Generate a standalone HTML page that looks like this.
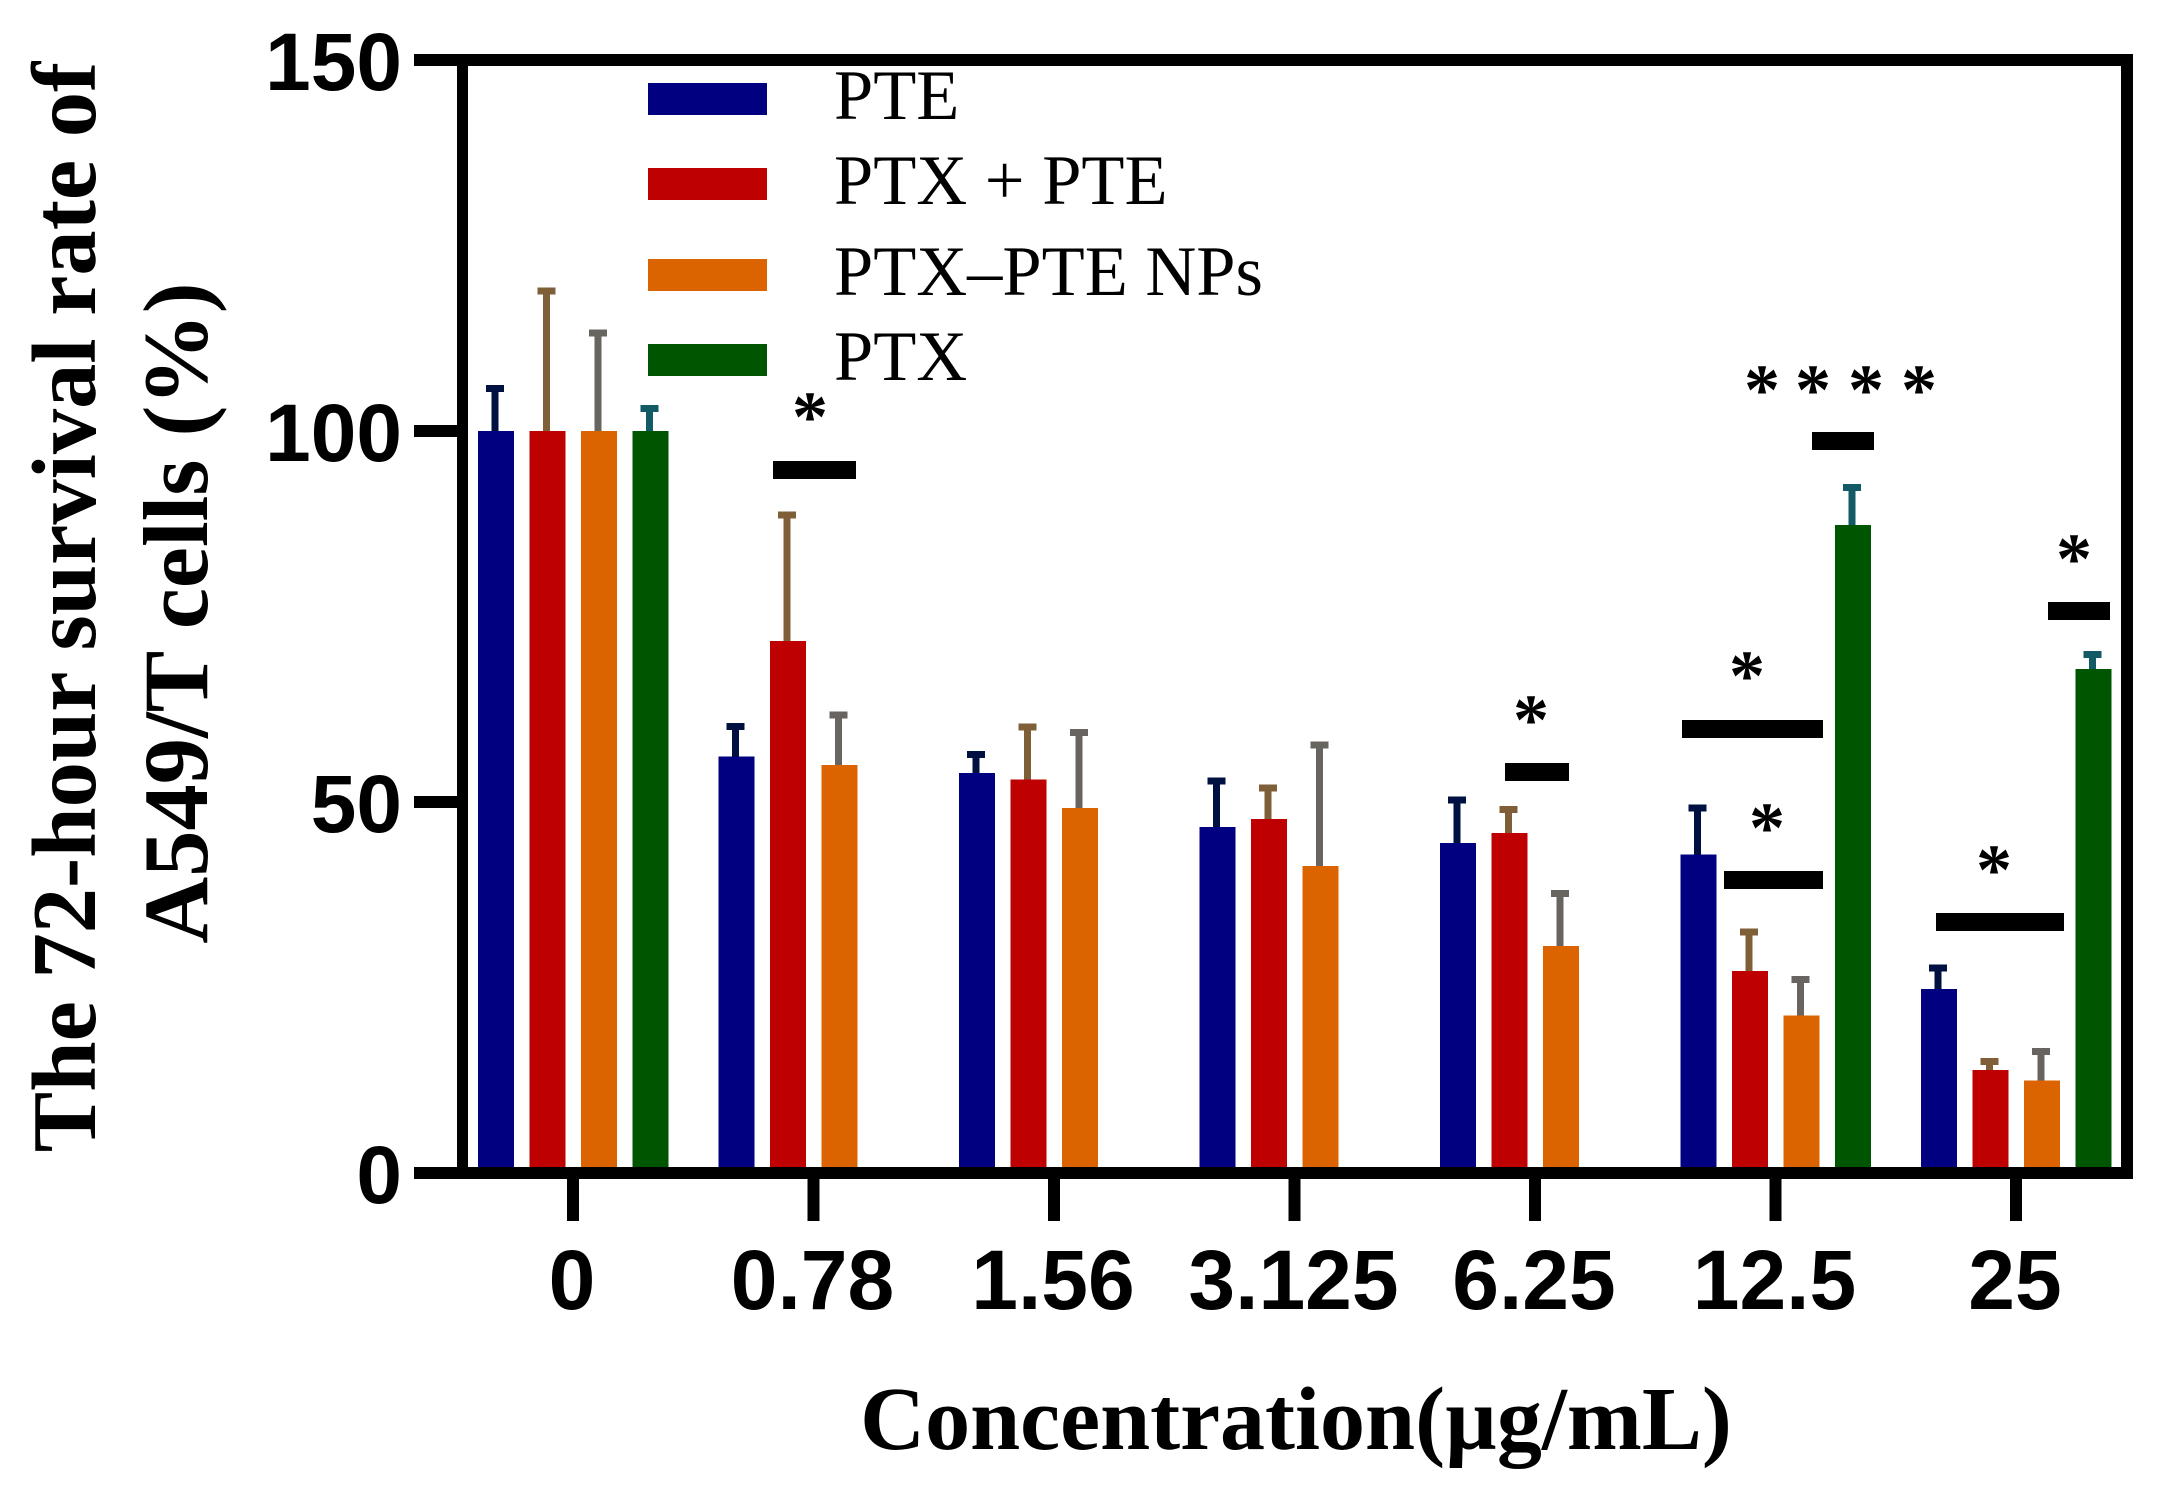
<!DOCTYPE html>
<html lang="en">
<head>
<meta charset="utf-8">
<title>72-hour survival rate of A549/T cells</title>
<style>
  html, body { margin: 0; padding: 0; background: #fff; }
  svg { display: block; }
  .tick { font-family: "Liberation Sans", sans-serif; font-weight: bold; font-size: 84px; fill: #000; }
  .ytick { font-size: 82px; }
  .title { font-family: "Liberation Serif", serif; font-weight: bold; font-size: 90px; fill: #000; }
  .legend { font-family: "Liberation Serif", serif; font-size: 70.5px; fill: #000; }
  .star { font-family: "Liberation Serif", serif; font-weight: bold; font-size: 72px; fill: #000; text-anchor: middle; }
</style>
</head>
<body>
<svg id="chart" xmlns="http://www.w3.org/2000/svg" width="2163" height="1496" viewBox="0 0 2163 1496" shape-rendering="crispEdges">
  <rect x="0" y="0" width="2163" height="1496" fill="#fff"/>
  <g id="bars"></g>
  <g id="axes"></g>
  <g id="legend"></g>

  <g>
    <rect x="773" y="461" width="83" height="18" fill="#000"/>
    <rect x="1505" y="763" width="64" height="18" fill="#000"/>
    <rect x="1682" y="720" width="141" height="18" fill="#000"/>
    <rect x="1724" y="871" width="99" height="18" fill="#000"/>
    <rect x="1812" y="432" width="62" height="18" fill="#000"/>
    <rect x="1936" y="913" width="128" height="18" fill="#000"/>
    <rect x="2048" y="602" width="62" height="18" fill="#000"/>
    <text class="star" x="810" y="441">*</text>
    <text class="star" x="1531" y="744">*</text>
    <text class="star" x="1747" y="700">*</text>
    <text class="star" x="1767" y="852">*</text>
    <text class="star" x="1994" y="894">*</text>
    <text class="star" x="2074" y="583">*</text>
    <text class="star" x="1762" y="414">*</text>
    <text class="star" x="1813" y="414">*</text>
    <text class="star" x="1866" y="414">*</text>
    <text class="star" x="1919" y="414">*</text>
  </g>

  <text class="title" x="1296" y="1449" text-anchor="middle">Concentration(µg/mL)</text>
  <text class="title" style="font-size:90.6px" transform="translate(95,607) rotate(-90)" text-anchor="middle">The 72-hour survival rate of</text>
  <text class="title" style="font-size:92.5px" transform="translate(207,613) rotate(-90)" text-anchor="middle">A549/T cells (%)</text>
</svg>

<script>
const categories = ["0", "0.78", "1.56", "3.125", "6.25", "12.5", "25"];
const yTicks = [0, 50, 100, 150];
const seriesNames = ["PTE", "PTX + PTE", "PTX–PTE NPs", "PTX"];
const valuesPTE = [100, 56.1, 53.9, 46.6, 44.5, 42.9, 24.8];
const valuesCombo = [100, 71.7, 53.0, 47.7, 45.8, 27.2, 13.9];
const valuesNPs = [100, 55.0, 49.2, 41.4, 30.6, 21.2, 12.5];
const valuesPTX = [100, null, null, null, null, 87.3, 67.9];
const errorsPTE = [5.7, 4.1, 2.5, 6.2, 5.8, 6.3, 2.8];
const errorsCombo = [18.9, 17.0, 7.1, 4.2, 3.2, 5.3, 1.1];
const errorsNPs = [13.2, 6.7, 10.2, 16.3, 7.1, 4.9, 3.9];
const errorsPTX = [3.0, null, null, null, null, 5.1, 2.0];

const SVG_NS = "http://www.w3.org/2000/svg";
const barColors = ["#000080", "#be0000", "#dc6400", "#005500"];
const errColors = ["#001040", "#7f5f38", "#686560", "#115a66"];
const allValues = [valuesPTE, valuesCombo, valuesNPs, valuesPTX];
const allErrors = [errorsPTE, errorsCombo, errorsNPs, errorsPTX];
const slugs = ["pte", "ptx-pte", "ptx-pte-nps", "ptx"];

function yScale(v) { return 1173 - v * (1113 / 150); }
function xCenter(i) { return 573 + i * 240.5; }
function barX(i, s) { return xCenter(i) - 95 + s * 51.5; }

function make(tag, attrs, parent) {
  const el = document.createElementNS(SVG_NS, tag);
  for (const k in attrs) el.setAttribute(k, attrs[k]);
  parent.appendChild(el);
  return el;
}

const barsG = document.getElementById("bars");
const axesG = document.getElementById("axes");
const legendG = document.getElementById("legend");

allValues.forEach(function (vals, s) {
  vals.forEach(function (v, i) {
    if (v === null) return;
    const x = barX(i, s);
    const top = yScale(v);
    const errTop = yScale(v + allErrors[s][i]);

    const whisker = make("rect", { x: x + 18 - 4.5, y: errTop, width: 7, height: top - errTop + 1, fill: errColors[s] }, barsG);
    
    

    const cap = make("rect", { x: x + 18 - 10, y: errTop - 3.5, width: 18, height: 7, fill: errColors[s] }, barsG);
    
    

    const bar = make("rect", { x: x, y: top, width: 36, height: yScale(0) - top, fill: barColors[s] }, barsG);
    
    
  });
});

const frameTop = make("rect", { x: 414, y: yScale(150) - 6, width: 1719, height: 12, fill: "#000" }, axesG);



const frameBottom = make("rect", { x: 414, y: yScale(0) - 6, width: 1719, height: 12, fill: "#000" }, axesG);



const frameLeft = make("rect", { x: 457, y: yScale(150) - 6, width: 11, height: yScale(0) - yScale(150) + 12, fill: "#000" }, axesG);



const frameRight = make("rect", { x: 2121, y: yScale(150) - 6, width: 12, height: yScale(0) - yScale(150) + 12, fill: "#000" }, axesG);



yTicks.forEach(function (t) {
  const mark = make("rect", { x: 414, y: yScale(t) - 6, width: 44, height: 12, fill: "#000" }, axesG);
  
  

  const label = make("text", { class: "tick ytick", x: 402, y: yScale(t) + 30, "text-anchor": "end" }, axesG);
  
  
  label.textContent = String(t);
});

categories.forEach(function (c, i) {
  const mark = make("rect", { x: xCenter(i) - 6, y: yScale(0), width: 12, height: 48, fill: "#000" }, axesG);
  
  

  const label = make("text", { class: "tick", x: xCenter(i) - 1, y: 1309, "text-anchor": "middle" }, axesG);
  
  
  label.textContent = c;
});

const legendSwatchTops = [83, 168, 259, 344];
seriesNames.forEach(function (name, s) {
  const top = legendSwatchTops[s];

  const swatch = make("rect", { x: 648, y: top, width: 119, height: 32, fill: barColors[s] }, legendG);
  
  

  const label = make("text", { class: "legend", x: 834, y: top + 36 }, legendG);
  
  
  label.textContent = name;
});
</script>
</body>
</html>
